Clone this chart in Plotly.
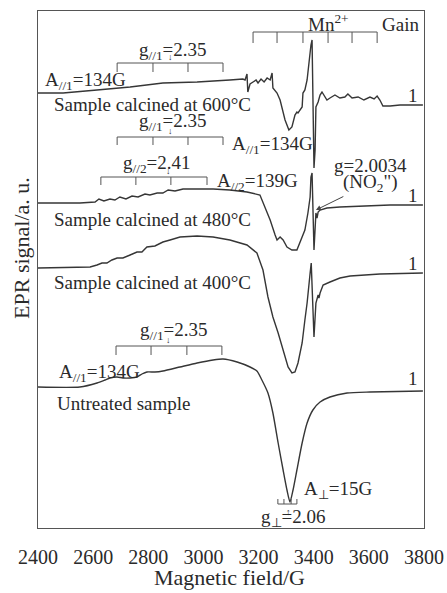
import plotly.graph_objects as go

# ---------------- data (field in G, signal in a.u.) ----------------
field_600 = [2400,2491,2614,2734,2853,2977,3096,3143,3151,3158,3161,3169,3180,3191,3198,3209,3220,3231,3242,3249,
             3252,3267,3278,3289,3296,3310,3321,3332,3339,3343,3358,3361,3368,3376,3383,3390,3394,3401,3405,3408,
             3416,3423,3430,3441,3448,3459,3477,3495,3513,3524,3539,3561,3582,3604,3619,3630,3640,3651,3677,3713,3796]
signal_600 = [435,435,438,441,445,446,448,449,448,454,436,444,446,448,445,449,446,450,448,455,
              440,435,428,415,408,398,401,413,416,415,421,435,438,448,468,483,488,360,378,421,
              426,433,436,431,428,430,433,430,431,434,430,431,428,431,429,432,428,422,422,423,423]

field_480 = [2400,2552,2607,2621,2639,2661,2679,2697,2719,2741,2763,2788,2806,2832,2853,2872,2897,2926,2969,3035,
             3096,3158,3205,3223,3242,3260,3267,3278,3289,3303,3321,3339,3350,3368,3379,3387,3390,3394,3401,3405,
             3408,3412,3416,3423,3448,3495,3568,3677,3796]
signal_480 = [325,325,326,329,327,329,328,331,329,332,331,334,333,335,335,338,337,339,339,339,
              338,336,333,321,308,293,288,291,288,281,278,278,285,298,315,331,351,355,278,303,
              315,310,316,318,320,321,322,323,323]

field_400 = [2400,2589,2614,2632,2650,2668,2687,2708,2734,2759,2777,2795,2824,2853,2879,2915,2977,3035,3096,3158,
             3194,3216,3234,3252,3271,3289,3307,3321,3332,3343,3358,3368,3376,3387,3391,3401,3408,3416,3419,3423,
             3434,3459,3495,3532,3640,3796]
signal_400 = [260,261,263,265,265,268,270,270,273,276,276,281,282,286,288,291,292,291,288,283,
              275,258,231,211,195,178,161,155,156,165,185,208,225,255,265,191,225,233,230,235,
              243,246,250,252,254,255]

field_untreated = [2400,2552,2614,2643,2661,2687,2708,2734,2759,2777,2795,2824,2853,2915,2977,3035,3071,3122,3169,
                   3194,3212,3234,3252,3271,3289,3303,3314,3325,3339,3358,3376,3397,3423,3459,3521,3604,3796]
signal_untreated = [141,141,145,148,150,151,150,150,151,154,156,156,157,161,165,168,169,166,161,
                    157,148,135,115,85,58,38,26,38,58,85,105,118,126,131,135,136,137]

x_tick_values = [2400, 2600, 2800, 3000, 3200, 3400, 3600, 3800]
x_tick_labels = ["2400", "2600", "2800", "3000", "3200", "3400", "3600", "3800"]

# hyperfine stick positions (G)
mn_sticks = [3180, 3267, 3361, 3452, 3539, 3630]
g1_sticks_600 = [2687, 2817, 2944, 3071]
g1_sticks_480 = [2687, 2817, 2944, 3071]
g2_sticks_480 = [2628, 2755, 2882, 3013]
g1_sticks_untreated = [2683, 2810, 2940, 3067]
gperp_sticks = [3270, 3292, 3318, 3339]

LINE = "#363636"
FONT = "Liberation Serif"
TXT = "#2a2a2a"

fig = go.Figure()
for fx, sy, shape in [(field_600, signal_600, "linear"), (field_480, signal_480, "linear"),
                      (field_400, signal_400, "linear"), (field_untreated, signal_untreated, "spline")]:
    fig.add_trace(go.Scatter(x=fx, y=sy, mode="lines",
                             line=dict(color=LINE, width=1.4, shape=shape, smoothing=0.6),
                             showlegend=False, hoverinfo="skip"))

shapes = []
def bracket(xs, yline, ytick):
    shapes.append(dict(type="line", xref="x", yref="y", x0=xs[0], x1=xs[-1], y0=yline, y1=yline,
                       line=dict(color="#555", width=1)))
    for xv in xs:
        shapes.append(dict(type="line", xref="x", yref="y", x0=xv, x1=xv, y0=yline, y1=ytick,
                           line=dict(color="#555", width=1)))

bracket(mn_sticks, 496, 485)
bracket(g1_sticks_600, 465, 456)
bracket(g1_sticks_480, 391, 383)
bracket(g2_sticks_480, 351, 343)
bracket(g1_sticks_untreated, 182, 173)
bracket(gperp_sticks, 24, 29)

ann = []
def text(x, y, s, xanchor="center", size=19, yanchor="middle"):
    ann.append(dict(x=x, y=y, xref="x", yref="y", text=s, showarrow=False, xanchor=xanchor,
                    yanchor=yanchor, font=dict(family=FONT, size=size, color=TXT)))

text(3452, 505, "Mn<sup>2+</sup>")
text(3713, 504, "Gain")
text(2890, 477, "g<sub>//1</sub>=2.35")
text(2418, 447, "A<sub>//1</sub>=134G", "left")
text(2814, 424, "Sample calcined at 600°C")
text(2890, 406, "g<sub>//1</sub>=2.35")
text(3096, 383, "A<sub>//1</sub>=134G", "left")
text(2832, 364, "g<sub>//2</sub>=2.41")
text(3042, 346, "A<sub>//2</sub>=139G", "left")
text(3607, 363, "g=2.0034")
text(2814, 309, "Sample calcined at 480°C")
text(2814, 246, "Sample calcined at 400°C")
text(2894, 197, "g<sub>//1</sub>=2.35")
text(2469, 155, "A<sub>//1</sub>=134G", "left")
text(2462, 125, "Untreated sample", "left")
text(3358, 38, "A<sub>⊥</sub>=15G", "left")
text(3325, 10, "g<sub>⊥</sub>=2.06")
for yv in [433, 333, 265, 150]:
    text(3760, yv, "1")

# small arrows pointing at the g positions
for xv, yv in [(2879, 465), (2879, 391), (2872, 351), (2872, 182)]:
    text(xv, yv - 1, "↓", size=9, yanchor="bottom")
text(3310, 23, "↑", size=9, yanchor="top")

# (NO2") label with arrow to the NO2 signal
ann.append(dict(x=3408, y=318, xref="x", yref="y", ax=3607, ay=345, axref="x", ayref="y",
                text="(NO<sub>2</sub>\")", showarrow=True, arrowhead=2, arrowsize=1,
                arrowwidth=1, arrowcolor="#444", standoff=0, startstandoff=0,
                font=dict(family=FONT, size=19, color=TXT)))

# axis titles
ann.append(dict(x=-0.041, y=0.542, xref="paper", yref="paper", text="EPR signal/a. u.",
                textangle=-90, showarrow=False, xanchor="center", yanchor="middle",
                font=dict(family=FONT, size=22, color=TXT)))
ann.append(dict(x=0.495, y=-0.0967, xref="paper", yref="paper", text="Magnetic field/G",
                showarrow=False, xanchor="center", yanchor="middle",
                font=dict(family=FONT, size=22, color=TXT)))

fig.update_layout(
    width=447, height=593,
    margin=dict(l=38, r=23, t=11, b=65, autoexpand=False),
    paper_bgcolor="white", plot_bgcolor="white",
    shapes=shapes, annotations=ann,
    xaxis=dict(range=[2400, 3800], tickvals=x_tick_values, ticktext=x_tick_labels,
               showgrid=False, zeroline=False, showline=True, mirror=True, automargin=False,
               linecolor="#555", linewidth=1, ticks="outside", ticklen=11,
               tickcolor="rgba(0,0,0,0)",
               tickfont=dict(family=FONT, size=20, color=TXT)),
    yaxis=dict(range=[0, 517], showgrid=False, zeroline=False, showline=True, mirror=True,
               automargin=False, linecolor="#555", linewidth=1, showticklabels=False, ticks=""),
)

fig.write_html("out.html", config={"displayModeBar": False},
               post_script="document.body.style.margin='0px';")
